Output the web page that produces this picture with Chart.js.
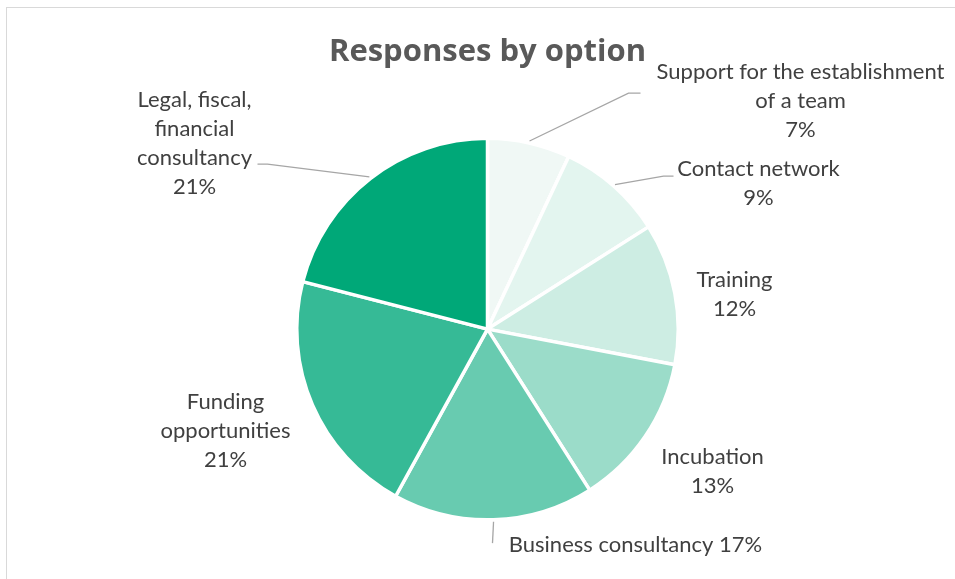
<!DOCTYPE html>
<html>
<head>
<meta charset="utf-8">
<script src="https://cdn.jsdelivr.net/npm/chart.js@4/dist/chart.umd.min.js"></script>
<style>
  html, body { margin: 0; padding: 0; background: #fff; }
  #frame {
    position: absolute; left: 6px; top: 7px; width: 960px; height: 590px;
    border: 1px solid #d9d9d9; box-sizing: border-box;
  }
  #wrap { position: absolute; left: 0; top: 0; width: 955px; height: 579px; }
</style>
</head>
<body>
<div id="frame"></div>
<div id="wrap"><canvas id="pie"></canvas></div>
<script>
// answers per option, in percent, clockwise from 12 o'clock
const categories = [
  ['Support for the establishment', 'of a team'],
  ['Contact network'],
  ['Training'],
  ['Incubation'],
  ['Business consultancy'],
  ['Funding', 'opportunities'],
  ['Legal, fiscal,', 'financial', 'consultancy']
];
const percents = [7, 9, 12, 13, 17, 21, 21];
const sliceColors = ['#f0f8f5', '#e3f5ef', '#cdede3', '#9bdcc9', '#68cbb0', '#36ba96', '#00a878'];

// where each label sits, relative to the pie centre (px); leader = elbow + end of the pointer line
const labelSpots = [
  { dx: 313, dy: -257, leader: [[141, -236], [153, -236]] },
  { dx: 271, dy: -160, leader: [[176, -153], [186, -153]] },
  { dx: 247, dy: -49 },
  { dx: 225, dy: 128 },
  { dx: 148, dy: 216, inline: true, leader: [[5, 214]] },
  { dx: -262, dy: 73 },
  { dx: -293, dy: -229, leader: [[-220, -165], [-230, -165]] }
];

const FONT = 'Lato, "Open Sans", sans-serif';

const sliceLabels = {
  id: 'sliceLabels',
  afterDatasetsDraw(chart) {
    const ctx = chart.ctx;
    const arcs = chart.getDatasetMeta(0).data;
    ctx.save();
    ctx.font = '22px ' + FONT;
    ctx.fillStyle = '#404040';
    ctx.textAlign = 'center';
    ctx.textBaseline = 'middle';
    ctx.strokeStyle = '#a6a6a6';
    ctx.lineWidth = 1.3;
    arcs.forEach((arc, i) => {
      const spot = labelSpots[i];
      const cx = arc.x, cy = arc.y;
      if (spot.leader) {
        const mid = (arc.startAngle + arc.endAngle) / 2;
        const r = arc.outerRadius + 2;
        ctx.beginPath();
        ctx.moveTo(cx + Math.cos(mid) * r, cy + Math.sin(mid) * r);
        spot.leader.forEach(p => ctx.lineTo(cx + p[0], cy + p[1]));
        ctx.stroke();
      }
      let lines = categories[i].slice();
      if (spot.inline) {
        lines[lines.length - 1] += ' ' + percents[i] + '%';
      } else {
        lines.push(percents[i] + '%');
      }
      lines.forEach((t, k) => ctx.fillText(t, cx + spot.dx, cy + spot.dy + k * 29));
    });
    ctx.restore();
  }
};

new Chart(document.getElementById('pie'), {
  type: 'pie',
  data: {
    labels: categories,
    datasets: [{
      data: percents,
      backgroundColor: sliceColors,
      borderColor: '#ffffff',
      borderWidth: 3.5
    }]
  },
  options: {
    responsive: true,
    maintainAspectRatio: false,
    animation: false,
    layout: { padding: { top: 34, bottom: 56, left: 295, right: 275 } },
    plugins: {
      legend: { display: false },
      tooltip: { enabled: false },
      title: {
        display: true,
        text: 'Responses by option',
        color: '#595959',
        font: { family: '"Open Sans", Lato, sans-serif', size: 31, weight: 'bold' },
        padding: { top: 0, bottom: 64 }
      }
    }
  },
  plugins: [sliceLabels]
});
</script>
</body>
</html>
